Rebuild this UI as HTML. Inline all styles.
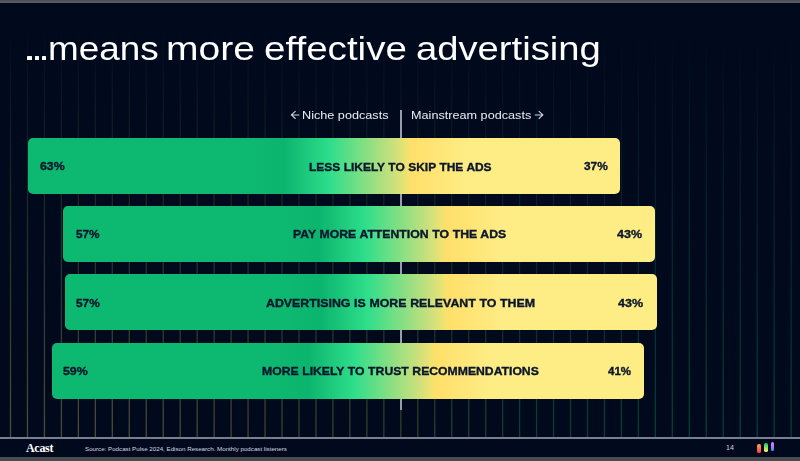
<!DOCTYPE html>
<html>
<head>
<meta charset="utf-8">
<style>
  html, body { margin:0; padding:0; }
  body { width:800px; height:461px; overflow:hidden; background:#010a1d; font-family:"Liberation Sans", sans-serif; position:relative; }
  .abs { position:absolute; }
  #topstrip { left:0; top:0; width:800px; height:3px; background:linear-gradient(#4c4f52,#5b5d61); }
  #botstrip { left:0; top:457px; width:800px; height:4px; background:#4a4d4f; }
  #gridwrap { left:0; top:3px; width:800px; height:434px; }
  .tw { position:absolute; top:27.5px; color:#fff; font-size:34px; line-height:40px; white-space:nowrap; transform-origin:0 0; }
  .dot { position:absolute; top:55.5px; width:4.4px; height:4.2px; background:#fff; border-radius:0.6px; }
  .lab { position:absolute; color:#e9ebf2; font-size:11.5px; white-space:nowrap; line-height:40px; transform-origin:0 0; }
  #cline { left:400px; top:110px; width:2px; height:300px; background:#9c9dab; }
  .bar { height:56px; width:592px; border-radius:5px;
     background:linear-gradient(90deg,#0db871 0%, #0db871 37%, #0cb56e 43.3%, #2ede8b 51%, #cfe07c 62%, #f0e370 64.1%, #ffdf69 64.7%, #feec84 73.8%, #feec84 100%); }
  .bt { position:absolute; color:#0a162c; font-weight:bold; font-size:11.2px; line-height:40px; white-space:nowrap; transform-origin:0 0; -webkit-text-stroke:0.35px #0a162c; }
  
  #hline { left:0; top:437px; width:800px; height:2px; background:#7b7e90; }
  #logo { left:26px; top:440px; color:#fff; font-family:"Liberation Serif", serif; font-weight:bold; font-size:12px; line-height:16px; letter-spacing:-0.3px; }
  #src { left:85px; top:444px; color:#d5d8e2; font-size:6.2px; line-height:10px; white-space:nowrap; }
  #pn { left:726px; top:443px; color:#d5d8e2; font-size:7px; line-height:10px; }
  .pill { width:3.7px; border-radius:1.85px; }
</style>
</head>
<body>
<div class="abs" id="gridwrap">
  <svg width="800" height="434" style="position:absolute;left:0;top:0">
    <defs>
      <linearGradient id="hg" x1="0" y1="0" x2="1" y2="0">
        <stop offset="0" stop-color="#fee67a"/>
        <stop offset="0.22" stop-color="#ead464"/>
        <stop offset="0.375" stop-color="#c0ba58"/>
        <stop offset="0.5" stop-color="#9cb64e"/>
        <stop offset="0.625" stop-color="#44b45c"/>
        <stop offset="0.75" stop-color="#12b86e"/>
        <stop offset="1" stop-color="#0db871"/>
      </linearGradient>
      <linearGradient id="vg" x1="0" y1="0" x2="0" y2="1">
        <stop offset="0.04" stop-color="#fff" stop-opacity="0"/>
        <stop offset="1" stop-color="#fff" stop-opacity="0.31"/>
      </linearGradient>
      <mask id="m" maskUnits="userSpaceOnUse" x="0" y="0" width="800" height="434">
        <g fill="url(#vg)"><rect x="9.85" y="0" width="1.3" height="434"/><rect x="26.82" y="0" width="1.3" height="434"/><rect x="43.79" y="0" width="1.3" height="434"/><rect x="60.76" y="0" width="1.3" height="434"/><rect x="77.73" y="0" width="1.3" height="434"/><rect x="94.70" y="0" width="1.3" height="434"/><rect x="111.67" y="0" width="1.3" height="434"/><rect x="128.64" y="0" width="1.3" height="434"/><rect x="145.61" y="0" width="1.3" height="434"/><rect x="162.58" y="0" width="1.3" height="434"/><rect x="179.55" y="0" width="1.3" height="434"/><rect x="196.52" y="0" width="1.3" height="434"/><rect x="213.49" y="0" width="1.3" height="434"/><rect x="230.46" y="0" width="1.3" height="434"/><rect x="247.43" y="0" width="1.3" height="434"/><rect x="264.40" y="0" width="1.3" height="434"/><rect x="281.37" y="0" width="1.3" height="434"/><rect x="298.34" y="0" width="1.3" height="434"/><rect x="315.31" y="0" width="1.3" height="434"/><rect x="332.28" y="0" width="1.3" height="434"/><rect x="349.25" y="0" width="1.3" height="434"/><rect x="366.22" y="0" width="1.3" height="434"/><rect x="383.19" y="0" width="1.3" height="434"/><rect x="400.16" y="0" width="1.3" height="434"/><rect x="417.13" y="0" width="1.3" height="434"/><rect x="434.10" y="0" width="1.3" height="434"/><rect x="451.07" y="0" width="1.3" height="434"/><rect x="468.04" y="0" width="1.3" height="434"/><rect x="485.01" y="0" width="1.3" height="434"/><rect x="501.98" y="0" width="1.3" height="434"/><rect x="518.95" y="0" width="1.3" height="434"/><rect x="535.92" y="0" width="1.3" height="434"/><rect x="552.89" y="0" width="1.3" height="434"/><rect x="569.86" y="0" width="1.3" height="434"/><rect x="586.83" y="0" width="1.3" height="434"/><rect x="603.80" y="0" width="1.3" height="434"/><rect x="620.77" y="0" width="1.3" height="434"/><rect x="637.74" y="0" width="1.3" height="434"/><rect x="654.71" y="0" width="1.3" height="434"/><rect x="671.68" y="0" width="1.3" height="434"/><rect x="688.65" y="0" width="1.3" height="434"/><rect x="705.62" y="0" width="1.3" height="434"/><rect x="722.59" y="0" width="1.3" height="434"/><rect x="739.56" y="0" width="1.3" height="434"/><rect x="756.53" y="0" width="1.3" height="434"/><rect x="773.50" y="0" width="1.3" height="434"/><rect x="790.47" y="0" width="1.3" height="434"/></g>
      </mask>
    </defs>
    <rect x="0" y="0" width="800" height="434" fill="url(#hg)" mask="url(#m)"/>
  </svg>
</div>
<div class="abs" id="topstrip"></div>
<div class="dot" style="left:27.2px"></div><div class="dot" style="left:34.6px"></div><div class="dot" style="left:42px"></div>
<span class="tw" style="left:47.8px; transform:scaleX(1.0853);">means</span><span class="tw" style="left:166.2px; transform:scaleX(1.1483);">more</span><span class="tw" style="left:263.6px; transform:scaleX(1.1340);">effective</span><span class="tw" style="left:416.4px; transform:scaleX(1.1240);">advertising</span>

<div class="lab" style="left:301.90px; top:94.6px; transform:scaleX(1.100);">Niche podcasts</div>
<div class="lab" style="left:411.20px; top:94.6px; transform:scaleX(1.100);">Mainstream podcasts</div>
<svg class="abs" style="left:285px;top:105px" width="270" height="20"><g fill="none" stroke="#d4d8e4" stroke-width="1.05" stroke-linecap="round" stroke-linejoin="round"><path d="M13.9 9.9H6.4M10.3 6.3L6.4 9.9L10.3 13.5"/><path d="M250.2 9.9H257.9M254 6.3L257.9 9.9L254 13.5"/></g></svg>

<div class="abs" id="cline"></div>

<div class="abs bar" style="left:27.75px; top:137.50px; height:56.6px;"></div>
<div class="abs bar" style="left:63.00px; top:205.70px;"></div>
<div class="abs bar" style="left:64.70px; top:274.10px;"></div>
<div class="abs bar" style="left:52.00px; top:343.20px;"></div>


<div class="bt" style="left:308.97px; top:147.22px; word-spacing:0.2px; transform:scaleX(1.0669);">LESS LIKELY TO SKIP THE ADS</div>
<div class="bt" style="left:39.97px; top:146.32px; transform:scaleX(1.1049);">63%</div>
<div class="bt" style="left:583.67px; top:146.32px; transform:scaleX(1.0603);">37%</div>
<div class="bt" style="left:293.37px; top:214.42px; word-spacing:0.2px; transform:scaleX(1.0947);">PAY MORE ATTENTION TO THE ADS</div>
<div class="bt" style="left:75.67px; top:213.92px; transform:scaleX(1.0513);">57%</div>
<div class="bt" style="left:616.67px; top:213.92px; transform:scaleX(1.1183);">43%</div>
<div class="bt" style="left:265.92px; top:283.02px; word-spacing:0.2px; transform:scaleX(1.1043);">ADVERTISING IS MORE RELEVANT TO THEM</div>
<div class="bt" style="left:76.47px; top:283.12px; transform:scaleX(1.0603);">57%</div>
<div class="bt" style="left:618.17px; top:283.12px; transform:scaleX(1.1183);">43%</div>
<div class="bt" style="left:261.77px; top:351.02px; word-spacing:0.2px; transform:scaleX(1.0899);">MORE LIKELY TO TRUST RECOMMENDATIONS</div>
<div class="bt" style="left:63.17px; top:351.12px; transform:scaleX(1.1049);">59%</div>
<div class="bt" style="left:608.17px; top:351.12px; transform:scaleX(1.0290);">41%</div>


<div class="abs" id="hline"></div>
<div class="abs" id="logo">Acast</div>
<div class="abs" id="src">Source: Podcast Pulse 2024, Edison Research. Monthly podcast listeners</div>
<div class="abs" id="pn">14</div>
<div class="abs pill" style="left:757.4px; top:444.2px; height:8.4px; background:linear-gradient(#ffae36,#ff3458);"></div>
<div class="abs pill" style="left:763.9px; top:443.1px; height:8.6px; background:linear-gradient(#1fd274 10%,#ffea5c 90%);"></div>
<div class="abs pill" style="left:770.8px; top:442.1px; height:8.6px; background:linear-gradient(#f472ff 15%,#3a96ff 90%);"></div>
<div class="abs" id="botstrip"></div>
</body>
</html>
